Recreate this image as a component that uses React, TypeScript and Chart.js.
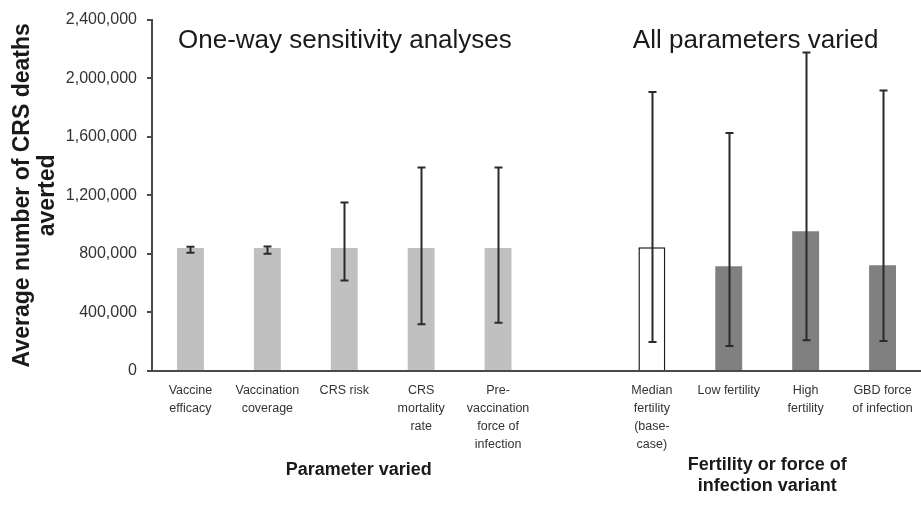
import React, { useEffect, useRef } from "react";
import { Chart, registerables } from "chart.js";

Chart.register(...registerables);

// Category labels (multi-line); the blank slot separates the two groups
const categories: (string | string[])[] = [
  ["Vaccine", "efficacy"],
  ["Vaccination", "coverage"],
  "CRS risk",
  ["CRS", "mortality", "rate"],
  ["Pre-", "vaccination", "force of", "infection"],
  "",
  ["Median", "fertility", "(base-", "case)"],
  "Low fertility",
  ["High", "fertility"],
  ["GBD force", "of infection"],
];

// Average number of CRS deaths averted
const averted: (number | null)[] = [
  840000, 840000, 840000, 840000, 840000, null, 845000, 715000, 955000, 722000,
];

// Uncertainty range (lower / upper bound)
const lowBound: (number | null)[] = [
  808000, 800000, 618000, 320000, 330000, null, 198000, 170000, 210000, 205000,
];
const highBound: (number | null)[] = [
  848000, 850000, 1150000, 1390000, 1390000, null, 1905000, 1625000, 2175000, 1915000,
];

const yTicks: number[] = [0, 400000, 800000, 1200000, 1600000, 2000000, 2400000];

const barFill = [
  "#c0c0c0", "#c0c0c0", "#c0c0c0", "#c0c0c0", "#c0c0c0", "#ffffff",
  "#ffffff", "#808080", "#808080", "#808080",
];
const barBorder = [0, 0, 0, 0, 0, 0, 1.5, 0, 0, 0];

const FONT = "'Liberation Sans', Arial, sans-serif";

const errorBars = {
  id: "errorBars",
  afterDatasetsDraw(chart: any) {
    const { ctx } = chart;
    const x = chart.scales.x;
    const y = chart.scales.y;
    ctx.save();
    ctx.strokeStyle = "#2a2a2a";
    ctx.lineWidth = 2;
    for (let i = 0; i < categories.length; i++) {
      const lo = lowBound[i];
      const hi = highBound[i];
      if (lo == null || hi == null) continue;
      const px = Math.round(x.getPixelForValue(i)) + 0.5;
      const yLo = y.getPixelForValue(lo);
      const yHi = y.getPixelForValue(hi);
      ctx.beginPath();
      ctx.moveTo(px, yLo);
      ctx.lineTo(px, yHi);
      ctx.moveTo(px - 4, yLo);
      ctx.lineTo(px + 4, yLo);
      ctx.moveTo(px - 4, yHi);
      ctx.lineTo(px + 4, yHi);
      ctx.stroke();
    }
    ctx.restore();
  },
};

const groupTitles = {
  id: "groupTitles",
  afterDraw(chart: any) {
    const { ctx, chartArea } = chart;
    const x = chart.scales.x;
    ctx.save();
    ctx.fillStyle = "#1a1a1a";
    ctx.textBaseline = "middle";

    // Panel headings
    ctx.font = `26px ${FONT}`;
    ctx.textAlign = "left";
    ctx.fillText("One-way sensitivity analyses", chartArea.left + 26, chartArea.top + 21);
    ctx.fillText("All parameters varied", x.getPixelForValue(6) - 19, chartArea.top + 21);

    // Group axis titles
    ctx.font = `bold 18px ${FONT}`;
    ctx.textAlign = "center";
    const leftMid = (x.getPixelForValue(2) + x.getPixelForValue(3)) / 2 - 24;
    ctx.fillText("Parameter varied", leftMid, chartArea.bottom + 99);
    const rightMid = (x.getPixelForValue(6) + x.getPixelForValue(9)) / 2;
    ctx.fillText("Fertility or force of", rightMid, chartArea.bottom + 94);
    ctx.fillText("infection variant", rightMid, chartArea.bottom + 115);
    ctx.restore();
  },
};

export default function App() {
  const ref = useRef<HTMLCanvasElement | null>(null);

  useEffect(() => {
    document.body.style.margin = "0";
    const canvas = ref.current;
    if (!canvas) return;
    const chart = new Chart(canvas, {
      type: "bar",
      data: {
        labels: categories,
        datasets: [
          {
            data: averted,
            backgroundColor: barFill,
            borderColor: "#1a1a1a",
            borderWidth: barBorder,
            barPercentage: 0.35,
            categoryPercentage: 1,
          },
        ],
      },
      options: {
        animation: false,
        responsive: false,
        devicePixelRatio: 1,
        layout: { padding: { top: 17, right: 0, bottom: 0, left: 0 } },
        plugins: {
          legend: { display: false },
          tooltip: { enabled: false },
        },
        scales: {
          x: {
            offset: true,
            grid: { display: false },
            border: { display: true, color: "#4a4a4a", width: 2 },
            ticks: {
              autoSkip: false,
              maxRotation: 0,
              minRotation: 0,
              padding: 2,
              color: "#333333",
              font: { family: FONT, size: 12.5, lineHeight: 1.45 },
            },
            afterFit(scale: any) {
              scale.height = 136;
            },
          },
          y: {
            min: 0,
            max: 2400000,
            afterBuildTicks(scale: any) {
              scale.ticks = yTicks.map((v) => ({ value: v }));
            },
            grid: {
              display: true,
              drawOnChartArea: false,
              drawTicks: true,
              tickLength: 5,
              color: "#4a4a4a",
              lineWidth: 2,
            },
            border: { display: true, color: "#4a4a4a", width: 2 },
            ticks: {
              padding: 10,
              color: "#333333",
              font: { family: FONT, size: 16 },
              callback: (v: any) => Number(v).toLocaleString("en-US"),
            },
            title: {
              display: true,
              text: ["Average number of CRS deaths", "averted"],
              color: "#1a1a1a",
              font: { family: FONT, size: 23, weight: "bold", lineHeight: 1.1 },
              padding: { top: 10, bottom: 0 },
            },
            afterFit(scale: any) {
              scale.width = 152;
            },
          },
        },
      },
      plugins: [errorBars, groupTitles],
    });
    return () => chart.destroy();
  }, []);

  return (
    <div style={{ width: 921, height: 507, background: "#ffffff" }}>
      <canvas ref={ref} width={921} height={507} />
    </div>
  );
}
